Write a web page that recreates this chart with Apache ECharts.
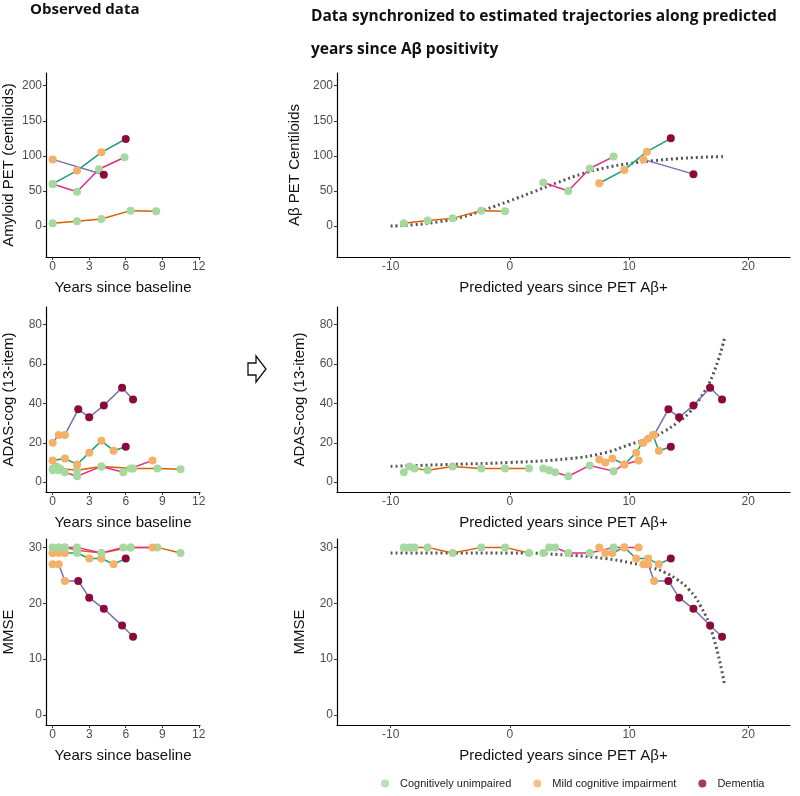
<!DOCTYPE html>
<html>
<head>
<meta charset="utf-8">
<script src="https://cdn.jsdelivr.net/npm/echarts@6/dist/echarts.min.js"></script>
<style>html,body{margin:0;padding:0;background:#fff}#main{width:800px;height:796px}</style>
</head>
<body>
<div id="main"></div>
<script>
// diagnosis code per point: 0 CU, 1 MCI, 2 dementia
const dxNames = ['Cognitively unimpaired', 'Mild cognitive impairment', 'Dementia'];
const dxColors = ['#a6d9a0', '#f5b16a', '#8c0a3a'];
// subject line colours: orange, teal, magenta, purple
const subjColors = ['#d95f02', '#1b9e77', '#e7298a', '#7570b3'];

// amyloid, observed  [years, value, dx]
const amyObsO = [[0,4,0],[2,7,0],[4,10,0],[6.4,22,0],[8.5,21,0]];
const amyObsT = [[0,60,0],[2,79,1],[4,105,1],[6,124,2]];
const amyObsM = [[0,60,0],[2,49,0],[3.8,81,0],[5.9,98,0]];
const amyObsP = [[0,95,1],[4.2,73,2]];
// amyloid, synchronized
const amySynO = [[-8.9,4,0],[-6.9,8,0],[-4.8,11,0],[-2.4,22,0],[-0.4,21,0]];
const amySynT = [[7.5,61,1],[9.6,80,1],[11.5,106,1],[13.5,125,2]];
const amySynM = [[2.8,62,0],[4.9,50,0],[6.7,82,0],[8.7,99,0]];
const amySynP = [[11.2,95,1],[15.4,74,2]];
const amyCurve = [[-10,0],[-8,2],[-6,6],[-4,13],[-2,24],[0,36],[2,49],[4,62],[6,74],[8,83],[10,89],[12,93],[14,96],[16,98],[18,99]];

// ADAS-cog, observed
const adasObsO = [[0,7,0],[0.3,8,0],[0.6,7,0],[2,6,0],[4,8,0],[6.6,7,0],[8.6,7,0],[10.5,6.5,0]];
const adasObsT = [[0,11,1],[1,12,1],[2,9,1],[3,15,1],[4,21,1],[5,16,1],[6,18,2]];
const adasObsM = [[0,6,0],[0.5,6,0],[1,5,0],[2,3,0],[4,8,0],[5.8,5,0],[6.4,7,0],[8.2,11,1]];
const adasObsP = [[0,20,1],[0.5,24,1],[1,24,1],[2.1,37,2],[3,33,2],[4.2,39,2],[5.7,48,2],[6.6,42,2]];
// ADAS-cog, synchronized
const adasSynO = [[-8.9,5,0],[-8.4,8,0],[-8,7,0],[-6.9,6,0],[-4.8,8,0],[-2.4,7,0],[-0.4,7,0],[1.6,7,0]];
const adasSynT = [[7.5,11.5,1],[8,10,1],[8.6,12,1],[9.6,9,1],[10.6,15,1],[11.1,20,1],[12,24,1],[12.5,16,1],[13.5,18,2]];
const adasSynM = [[2.8,7,0],[3.3,6,0],[3.8,5,0],[4.9,3,0],[6.7,8.5,0],[8.7,5.6,0],[9.6,9,1],[10.8,11,1]];
const adasSynP = [[11.2,20,1],[11.6,22,1],[12.1,24,1],[13.3,37,2],[14.2,33,2],[15.4,39,2],[16.8,48,2],[17.8,42,2]];
const adasCurve = [[-10,8],[-5,9],[0,10],[5,12],[8,15],[10,19],[12,23],[13,26],[14,30],[15,35],[16,43],[17,54],[18,73]];

// MMSE, observed
const mmseObsO = [[0,29,0],[0.5,30,0],[1,30,0],[2,29.5,0],[4,29,0],[6.4,30,0],[8.6,30,0],[10.5,29,0]];
const mmseObsT = [[0,29,1],[0.5,29,1],[1,29,1],[2,29,0],[3,28,1],[4,28,1],[5,27,1],[6,28,2]];
const mmseObsM = [[0,30,0],[0.5,30,0],[1,30,0],[2,30,0],[4,29,0],[5.8,30,0],[6.4,30,0],[8.2,30,1]];
const mmseObsP = [[0,27,1],[0.5,27,1],[1,24,1],[2.1,24,2],[3,21,2],[4.2,19,2],[5.7,16,2],[6.6,14,2]];
// MMSE, synchronized
const mmseSynO = [[-8.9,30,0],[-8.4,30,0],[-8,30,0],[-6.9,30,0],[-4.8,29,0],[-2.4,30,0],[-0.4,30,0],[1.6,29,0]];
const mmseSynT = [[7.5,30,1],[8,29,1],[8.6,29,1],[9.6,30,1],[10.6,28,1],[11.6,28,1],[12.5,27,1],[13.5,28,2]];
const mmseSynM = [[2.8,29,0],[3.3,30,0],[3.8,30,0],[4.9,29,0],[6.7,29,0],[8.7,30,0],[9.6,30,1],[10.8,30,1]];
const mmseSynP = [[11.2,27,1],[11.6,27,1],[12.1,24,1],[13.3,24,2],[14.2,21,2],[15.4,19,2],[16.8,16,2],[17.8,14,2]];
const mmseCurve = [[-10,29],[-5,29],[0,29],[5,28.6],[8,28],[10,27.3],[12,26.3],[13,25.5],[14,24.3],[15,22.5],[16,19.5],[17,14.5],[18,5.5]];

const obsTicks = [0, 3, 6, 9, 12];
const synTicks = [-10, 0, 10, 20];
const amyTicks = [0, 50, 100, 150, 200];
const adasTicks = [0, 20, 40, 60, 80];
const mmseTicks = [0, 10, 20, 30];

const font = 'Liberation Sans';
const rows = [{top: 73, h: 184}, {top: 307, h: 185}, {top: 539, h: 186}];

const grids = [];
rows.forEach(r => {
  grids.push({left: 46, width: 154, top: r.top, height: r.h});
  grids.push({left: 337, width: 453, top: r.top, height: r.h});
});

function xAx(i, left) {
  return {
    type: 'value', gridIndex: i,
    min: left ? -0.55 : -14.5, max: left ? 12.1 : 23.5,
    name: left ? 'Years since baseline' : 'Predicted years since PET Aβ+',
    nameLocation: 'middle', nameGap: 23,
    nameTextStyle: {fontFamily: font, fontSize: 15, color: '#111'},
    axisLine: {onZero: false, lineStyle: {color: '#000', width: 1.2}},
    axisTick: {customValues: left ? obsTicks : synTicks, length: 3, lineStyle: {color: '#333'}},
    axisLabel: {customValues: left ? obsTicks : synTicks, fontFamily: font, fontSize: 12, color: '#4d4d4d', margin: 4},
    splitLine: {show: false}
  };
}
function yAx(i, min, max, ticks, name) {
  return {
    type: 'value', gridIndex: i, min: min, max: max,
    name: name, nameLocation: 'middle', nameGap: 30,
    nameTextStyle: {fontFamily: font, fontSize: 15, color: '#111'},
    axisLine: {show: true, onZero: false, lineStyle: {color: '#000', width: 1.2}},
    axisTick: {show: true, customValues: ticks, length: 3, lineStyle: {color: '#333'}},
    axisLabel: {customValues: ticks, fontFamily: font, fontSize: 12, color: '#4d4d4d', margin: 4},
    splitLine: {show: false}
  };
}

const xAxes = [0, 1, 2, 3, 4, 5].map(i => xAx(i, i % 2 === 0));
const yAxes = [
  yAx(0, -44, 218, amyTicks, 'Amyloid PET (centiloids)'),
  yAx(1, -44, 218, amyTicks, 'Aβ PET Centiloids'),
  yAx(2, -5, 89, adasTicks, 'ADAS-cog (13-item)'),
  yAx(3, -5, 89, adasTicks, 'ADAS-cog (13-item)'),
  yAx(4, -1.8, 31.5, mmseTicks, 'MMSE'),
  yAx(5, -1.8, 31.5, mmseTicks, 'MMSE')
];

const panels = [
  [amyObsO, amyObsT, amyObsM, amyObsP],
  [amySynO, amySynT, amySynM, amySynP],
  [adasObsO, adasObsT, adasObsM, adasObsP],
  [adasSynO, adasSynT, adasSynM, adasSynP],
  [mmseObsO, mmseObsT, mmseObsM, mmseObsP],
  [mmseSynO, mmseSynT, mmseSynM, mmseSynP]
];
const curves = {1: amyCurve, 3: adasCurve, 5: mmseCurve};

const series = [];
panels.forEach((subjects, i) => {
  if (curves[i]) {
    series.push({
      type: 'line', xAxisIndex: i, yAxisIndex: i, data: curves[i],
      smooth: true, showSymbol: false, silent: true, z: 1,
      lineStyle: {type: [2, 3], width: 3, color: '#555'}
    });
  }
  subjects.forEach((pts, s) => {
    series.push({
      type: 'line', xAxisIndex: i, yAxisIndex: i, data: pts,
      symbol: 'circle', symbolSize: 8, z: 3,
      lineStyle: {color: subjColors[s], width: 1.5},
      itemStyle: {color: p => dxColors[p.data[2]]}
    });
  });
});
// empty series, only for the legend
dxNames.forEach((n, k) => {
  series.push({type: 'scatter', name: n, xAxisIndex: 0, yAxisIndex: 0, data: [],
    symbolSize: 7, itemStyle: {color: dxColors[k]}});
});

const chart = echarts.init(document.getElementById('main'));
chart.setOption({
  animation: false,
  grid: grids,
  xAxis: xAxes,
  yAxis: yAxes,
  series: series,
  legend: {
    data: dxNames, bottom: 2, left: 376,
    icon: 'circle', itemWidth: 8, itemHeight: 8, itemGap: 22,
    textStyle: {fontFamily: font, fontSize: 11, color: '#222', padding: [0, 0, 0, 6]}
  },
  graphic: [
    {type: 'text', left: 30, top: 2, style: {text: 'Observed data', fontFamily: 'Open Sans', fontWeight: 'bold', fontSize: 15, fill: '#111'}},
    {type: 'text', left: 311, top: 0, style: {text: 'Data synchronized to estimated trajectories along predicted\nyears since Aβ positivity', fontFamily: 'Open Sans', fontWeight: 'bold', fontSize: 15.5, lineHeight: 33, align: 'center', x: 233, fill: '#111'}},
    {type: 'polygon', shape: {points: [[248, 363], [256, 363], [256, 356], [266, 369], [256, 382], [256, 375], [248, 375]]},
      style: {fill: '#fff', stroke: '#111', lineWidth: 1.3}}
  ]
});
</script>
</body>
</html>
